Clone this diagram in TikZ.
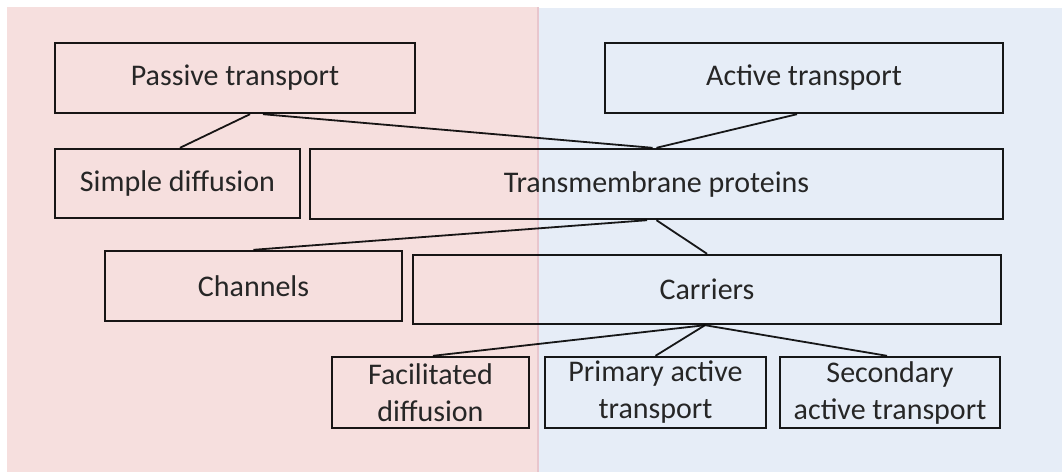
\documentclass[tikz,border=0pt]{standalone}
\usepackage{fontspec}
\setmainfont{Carlito}
\definecolor{passivebg}{HTML}{F6DFDE}
\definecolor{activebg}{HTML}{E6EDF7}
\definecolor{seam}{HTML}{E8C6CD}

\begin{document}
\begin{tikzpicture}[x=1pt,y=-1pt]
\tikzstyle{every node}+=[inner sep=0pt]
\tikzstyle{box}=[draw=black, draw opacity=0.9, line width=2.4pt, text=black!85, font=\fontsize{30}{37}\selectfont, align=center]
\tikzstyle{link}=[line width=1.8pt, draw=black, draw opacity=0.9]
\useasboundingbox (0,0) rectangle (1062,472);
% two halves
\fill [passivebg] (7,7) rectangle (538,472);
\fill [activebg] (538,8) rectangle (1062,472);
\draw [seam, line width=1.2pt] (538,7) -- (538,472);
% top row
\node [box, minimum width=360, minimum height=70] (passive) at (235,78) {Passive transport};
\node [box, minimum width=398, minimum height=70] (active) at (804,78) {Active transport};
% second row
\node [box, minimum width=245, minimum height=69] (simple) at (177.5,183.5) {Simple diffusion};
\node [box, minimum width=693, minimum height=70] (trans) at (656.5,184) {Transmembrane proteins};
% third row
\node [box, minimum width=297, minimum height=70] (channels) at (253.5,286) {Channels};
\node [box, minimum width=588, minimum height=69] (carriers) at (707,289.5) {Carriers};
% bottom row
\node [box, minimum width=197, minimum height=71] (facil) at (430.5,392.5) {Facilitated\\diffusion};
\node [box, minimum width=221, minimum height=71] (primary) at (655.5,392.5) {Primary active\\transport};
\node [box, minimum width=220, minimum height=71] (secondary) at (890,392.5) {Secondary\\active transport};
% links
\draw [link] ([xshift=15]passive.south) -- ([xshift=2.5]simple.north);
\draw [link] ([xshift=28]passive.south) -- ([xshift=-4]trans.north);
\draw [link] ([xshift=-7]active.south) -- (trans.north);
\draw [link] ([xshift=-9.5]trans.south) -- (channels.north);
\draw [link] (trans.south) -- (carriers.north);
\draw [link] ([xshift=-2]carriers.south) -- ([xshift=2.5]facil.north);
\draw [link] ([xshift=-2]carriers.south) -- (primary.north);
\draw [link] ([xshift=-2]carriers.south) -- ([xshift=-3]secondary.north);
\end{tikzpicture}
\end{document}
